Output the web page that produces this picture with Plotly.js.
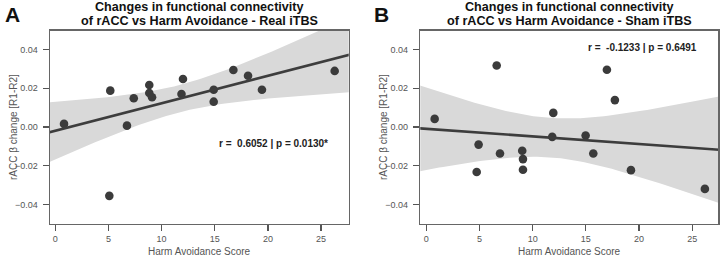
<!DOCTYPE html>
<html><head><meta charset="utf-8">
<script src="https://cdn.plot.ly/plotly-3.0.1.min.js"></script>
<style>html,body{margin:0;padding:0;background:#fff;}#chart{width:720px;height:256px;}</style>
</head><body><div id="chart"></div>
<script>
// Panel A: Real iTBS
const realHA = [0.82, 5.17, 7.38, 6.74, 8.84, 8.84, 9.10, 12.01, 11.87, 14.90, 14.90, 16.75, 18.13, 19.44, 26.28, 5.08];
const realBeta = [0.0016, 0.0188, 0.0149, 0.0007, 0.0217, 0.0176, 0.0154, 0.0248, 0.0171, 0.0193, 0.0131, 0.0295, 0.0265, 0.0193, 0.0290, -0.0356];
// Panel B: Sham iTBS
const shamHA = [0.79, 6.62, 16.98, 17.73, 11.94, 11.84, 14.98, 4.92, 6.93, 9.02, 9.09, 9.09, 4.74, 15.70, 19.24, 26.19];
const shamBeta = [0.0042, 0.0318, 0.0296, 0.0139, 0.0073, -0.0051, -0.0044, -0.0091, -0.0137, -0.0123, -0.0166, -0.0221, -0.0233, -0.0137, -0.0223, -0.0320];
const panelTitles = ["Changes in functional connectivity", "of rACC vs Harm Avoidance - Real iTBS", "of rACC vs Harm Avoidance - Sham iTBS"];
const statLabels = ["r =\u00a0\u00a00.6052 | p = 0.0130*", "r =\u00a0\u00a0-0.1233 | p = 0.6491"];
const yTickVals = [-0.04, -0.02, 0.00, 0.02, 0.04];
const xTickVals = [0, 5, 10, 15, 20, 25];

const W = 720, H = 256;
const px = v => v / W, py = v => 1 - v / H;

function fit(xs, ys, x0, x1) {
  const n = xs.length;
  const mx = xs.reduce((a, b) => a + b, 0) / n;
  const my = ys.reduce((a, b) => a + b, 0) / n;
  let sxx = 0, sxy = 0;
  for (let i = 0; i < n; i++) { sxx += (xs[i] - mx) ** 2; sxy += (xs[i] - mx) * (ys[i] - my); }
  const b = sxy / sxx, a = my - b * mx;
  let sse = 0;
  for (let i = 0; i < n; i++) sse += (ys[i] - a - b * xs[i]) ** 2;
  const s = Math.sqrt(sse / (n - 2));
  const t = 2.1448; // t(0.975, 14)
  const gx = [], fy = [], lo = [], hi = [];
  const steps = 80;
  for (let k = 0; k <= steps; k++) {
    const x = x0 + (x1 - x0) * k / steps;
    const f = a + b * x;
    const se = s * Math.sqrt(1 / n + (x - mx) ** 2 / sxx);
    gx.push(x); fy.push(f); lo.push(f - t * se); hi.push(f + t * se);
  }
  return { gx, fy, lo, hi };
}

function panelTraces(xs, ys, xa, ya) {
  const f = fit(xs, ys, -1, 28.5);
  const polyX = f.gx.concat(f.gx.slice().reverse());
  const polyY = f.hi.concat(f.lo.slice().reverse());
  return [
    { x: polyX, y: polyY, xaxis: xa, yaxis: ya, type: 'scatter', mode: 'lines', fill: 'toself',
      fillcolor: '#d9d9d9', line: { width: 0, color: 'rgba(0,0,0,0)' }, hoverinfo: 'skip', showlegend: false },
    { x: xs, y: ys, xaxis: xa, yaxis: ya, type: 'scatter', mode: 'markers',
      marker: { color: '#3b3b3b', size: 8.6 }, showlegend: false },
    { x: f.gx, y: f.fy, xaxis: xa, yaxis: ya, type: 'scatter', mode: 'lines',
      line: { color: '#3d3d3d', width: 2.6 }, showlegend: false }
  ];
}

const data = panelTraces(realHA, realBeta, 'x', 'y').concat(panelTraces(shamHA, shamBeta, 'x2', 'y2'));

const axBase = {
  showline: true, mirror: true, linecolor: '#666', linewidth: 1.5,
  ticks: 'outside', ticklen: 6, tickwidth: 1.2, tickcolor: '#555',
  showgrid: false, zeroline: false,
  tickfont: { family: 'Liberation Sans, Arial, sans-serif', size: 9, color: '#555' }
};
const yAx = Object.assign({}, axBase, { range: [-0.05, 0.0499], tickvals: yTickVals, tickformat: '.2f',
  domain: [1 - 223.7 / H, 1 - 30.5 / H], ticklabelstandoff: 3 });

const layout = {
  width: W, height: H, margin: { l: 0, r: 0, t: 0, b: 0 },
  paper_bgcolor: '#fff', plot_bgcolor: '#fff', showlegend: false,
  xaxis: Object.assign({}, axBase, { range: [-0.5, 27.6], tickvals: xTickVals, domain: [px(50), px(348.7)], anchor: 'y' }),
  yaxis: Object.assign({}, yAx, { anchor: 'x' }),
  xaxis2: Object.assign({}, axBase, { range: [-0.56, 27.45], tickvals: xTickVals, domain: [px(420.3), px(718.3)], anchor: 'y2' }),
  yaxis2: Object.assign({}, yAx, { anchor: 'x2' }),
  annotations: []
};

const tf = { family: 'Liberation Sans, Arial, sans-serif', size: 12.6, color: '#111' };
const ann = (text, x, y, font, extra) => Object.assign({ text, x: px(x), y: py(y), xref: 'paper', yref: 'paper',
  xanchor: 'center', yanchor: 'middle', showarrow: false, font, borderpad: 0 }, extra || {});

[[199, 1], [569, 2]].forEach(([cx, ti]) => {
  layout.annotations.push(ann('<b>' + panelTitles[0] + '</b>', cx, 7.2, tf));
  layout.annotations.push(ann('<b>' + panelTitles[ti] + '</b>', cx, 21.3, tf));
});
const letterFont = { family: 'Liberation Sans, Arial, sans-serif', size: 21, color: '#111' };
layout.annotations.push(ann('<b>A</b>', 12, 14, letterFont));
layout.annotations.push(ann('<b>B</b>', 381, 14, letterFont));
const statFont = { family: 'Liberation Sans, Arial, sans-serif', size: 10, color: '#222' };
layout.annotations.push(ann('<b>' + statLabels[0] + '</b>', 273.5, 143, statFont));
layout.annotations.push(ann('<b>' + statLabels[1] + '</b>', 642.5, 47, statFont));
const labFont = { family: 'Liberation Sans, Arial, sans-serif', size: 10, color: '#555' };
layout.annotations.push(ann('Harm Avoidance Score', 199, 251, labFont));
layout.annotations.push(ann('Harm Avoidance Score', 569, 251, labFont));
layout.annotations.push(ann('rACC β change [R1-R2]', 13, 127, labFont, { textangle: -90 }));
layout.annotations.push(ann('rACC β change [R1-R2]', 383, 127, labFont, { textangle: -90 }));

Plotly.newPlot('chart', data, layout, { displayModeBar: false, staticPlot: true });
</script>
</body></html>
